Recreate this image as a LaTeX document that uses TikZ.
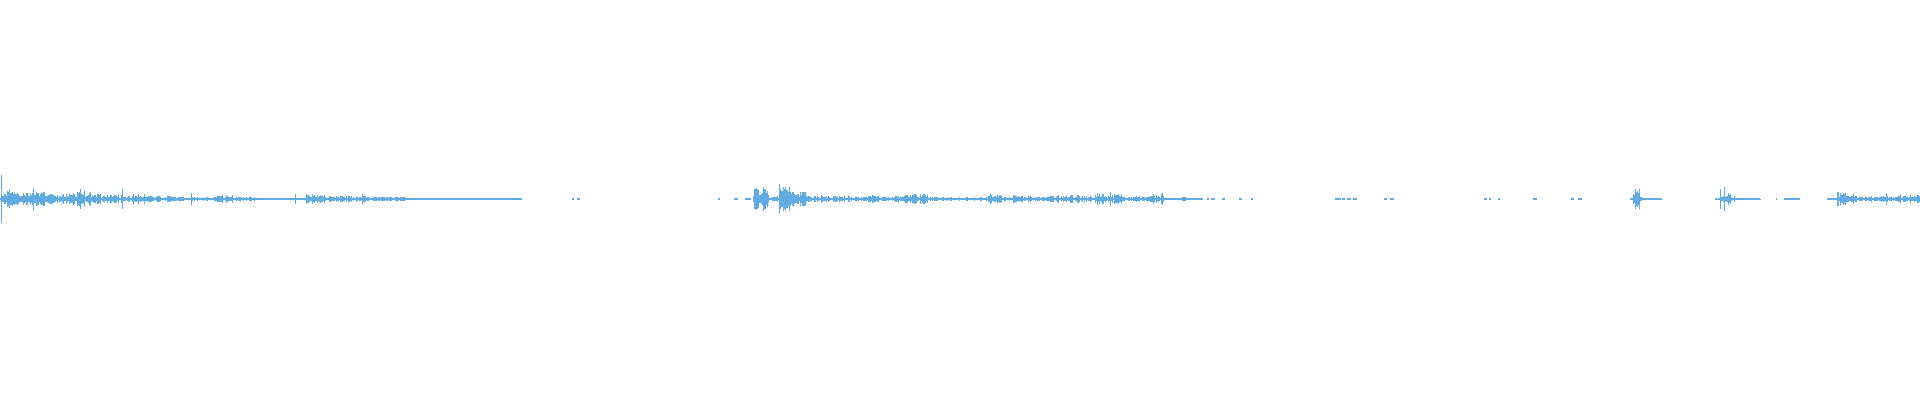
\documentclass[tikz,border=0pt]{standalone}
\definecolor{wave}{RGB}{96,172,226}
\newcommand{\wavebars}[3]{%
  \foreach \a/\b in {#1}
    \fill[wave] (\a,\cy-0.6) rectangle (\b,\cy+0.6);
  \foreach \a/\b/\m in {#2}{
    \foreach \x in {\a,...,\b}{
      \pgfmathsetmacro{\h}{\m*(0.25+0.75*rnd)}
      \fill[wave] (\x-0.5,\cy-\h) rectangle (\x+0.5,\cy+\h);
    }
  }
  \foreach \x/\h in {#3}
    \fill[wave] (\x-0.4,\cy-\h) rectangle (\x+0.4,\cy+\h);
}
\begin{document}
\begin{tikzpicture}[x=1pt,y=1pt]
\useasboundingbox (0,0) rectangle (1920,400);
\clip (0,0) rectangle (1920,400);
\pgfmathsetseed{7}
\def\cy{201}
\begin{scope}[x=1.2245pt]
\wavebars{0/426,467/469,471/474}
{1/20/9,20/40/7,40/60/5,60/75/8,75/95/5,95/125/5,125/150/3,150/175/2,175/190/4,190/210/2,210/250/1.5,250/265/5,265/300/3,300/330/2.5,330/380/1.5,380/426/1}
{1/24,27/11,66/10,100/10,156/6,241/5,296/5}
\end{scope}
\begin{scope}[x=1.2245pt,xshift=-143.7pt]
\wavebars{733/1000,704/705,717/720,726/731}
{733/745/11,745/752/3,754/762/13,762/775/8,775/800/4,800/826/3,826/835/5,835/856/3,856/875/5,875/900/2.5,900/925/2,925/935/5,935/945/2,945/960/4,960/975/2,975/1000/4}
{754/15,736/10,741/12,762/12}
\end{scope}
\wavebars{1080/1198,1199/1203,1207/1209,1211/1215,1222/1225,1239/1242,1251/1253}
{1081/1095/3,1095/1105/5,1105/1108/2,1108/1122/5,1122/1133/2.5,1133/1150/3,1150/1163/5,1168/1180/1.5,1180/1185/2.5,1185/1198/1}
{1110/7,1097/6,1162/6,1114/5}
\begin{scope}[x=1.2245pt,xshift=-287.4pt]
\wavebars{1325/1330,1331/1333,1335/1338,1340/1343,1365/1367,1370/1373,1447/1449,1451/1452,1458/1460,1487/1490,1518/1520,1523/1527,1566/1592,1646/1672,1685/1686,1692/1705,1727/1920}
{1569/1575/5,1636/1640/1.2,1640/1652/4,1652/1672/1,1732/1735/1.5,1735/1742/8,1742/1750/5,1750/1785/3,1785/1830/4,1830/1860/3,1860/1900/4,1900/1920/5}
{1570/10,1574/10,1571/7,1572/8,1573/6,1646/6,1647/4,1648/5,1640/10,1643/12,1870/9,1902/9,1775/6,1834/4,1748/5}
\end{scope}
\end{tikzpicture}
\end{document}
